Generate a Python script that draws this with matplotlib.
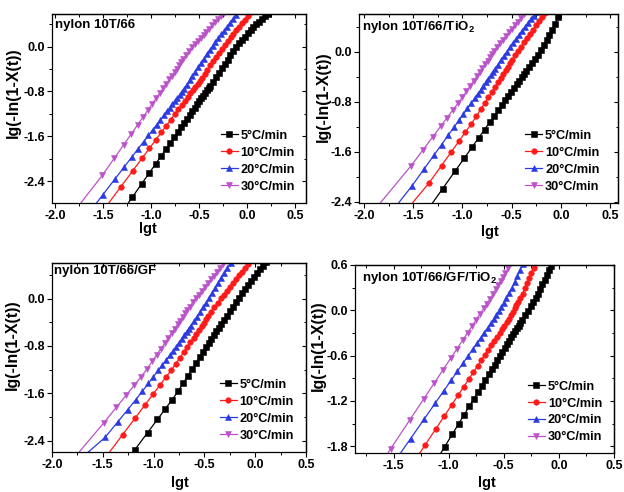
import matplotlib
matplotlib.use("Agg")
import matplotlib.pyplot as plt
from matplotlib.ticker import MultipleLocator

plt.rcParams["font.family"] = ["Liberation Sans", "DejaVu Sans"]
plt.rcParams["font.weight"] = "bold"
plt.rcParams["mathtext.fontset"] = "custom"
plt.rcParams["mathtext.rm"] = "Liberation Sans:bold"
plt.rcParams["mathtext.bf"] = "Liberation Sans:bold"
plt.rcParams["axes.linewidth"] = 0.9

RATES = ["5°C/min", "10°C/min", "20°C/min", "30°C/min"]
COLORS = ["#000000", "#ff1a1a", "#2b3be0", "#bb52c9"]
MARKERS = ["s", "o", "^", "v"]
TITLES = ["nylon 10T/66", "nylon 10T/66/TiO$_{2}$",
          "nylon 10T/66/GF", "nylon 10T/66/GF/TiO$_{2}$"]

# ---- panel a: nylon 10T/66 ----
a_x5 = [-1.30, -1.195, -1.098, -1.019, -0.952, -0.894, -0.843, -0.797, -0.756, -0.718, -0.683,
        -0.651, -0.621, -0.593, -0.567, -0.542, -0.518, -0.496, -0.475, -0.455, -0.435, -0.417,
        -0.399, -0.382, -0.352, -0.322, -0.292, -0.262, -0.232, -0.202, -0.172, -0.142, -0.112,
        -0.082, -0.052, -0.022, 0.008, 0.038, 0.068, 0.098, 0.128, 0.158, 0.188, 0.218]
a_y5 = [-2.947, -2.690, -2.452, -2.259, -2.095, -1.953, -1.828, -1.715, -1.614, -1.521, -1.436,
        -1.357, -1.284, -1.215, -1.151, -1.090, -1.031, -0.977, -0.926, -0.877, -0.828, -0.784,
        -0.740, -0.698, -0.625, -0.547, -0.469, -0.391, -0.313, -0.235, -0.157, -0.079, -0.006,
        0.054, 0.114, 0.174, 0.234, 0.294, 0.347, 0.395, 0.443, 0.491, 0.539, 0.587]
a_x10 = [-1.50, -1.316, -1.191, -1.094, -1.015, -0.948, -0.890, -0.839, -0.793, -0.752, -0.714,
         -0.679, -0.647, -0.617, -0.589, -0.563, -0.538, -0.514, -0.492, -0.471, -0.441, -0.411,
         -0.381, -0.351, -0.321, -0.291, -0.261, -0.231, -0.201, -0.171, -0.141, -0.111, -0.081,
         -0.051, -0.021, 0.009, 0.039]
a_y10 = [-2.930, -2.507, -2.220, -1.996, -1.815, -1.661, -1.527, -1.410, -1.304, -1.210, -1.122,
         -1.042, -0.968, -0.899, -0.835, -0.775, -0.718, -0.662, -0.610, -0.559, -0.485, -0.412,
         -0.338, -0.265, -0.191, -0.118, -0.044, 0.029, 0.103, 0.166, 0.229, 0.292, 0.355,
         0.418, 0.481, 0.544, 0.607]
a_x20 = [-1.60, -1.503, -1.378, -1.281, -1.202, -1.135, -1.077, -1.026, -0.980, -0.939, -0.901,
         -0.866, -0.834, -0.804, -0.776, -0.750, -0.725, -0.701, -0.679, -0.658, -0.628, -0.598,
         -0.568, -0.538, -0.508, -0.478, -0.448, -0.418, -0.388, -0.358, -0.328, -0.298, -0.268,
         -0.238, -0.208, -0.178, -0.148, -0.118, -0.088]
a_y20 = [-2.865, -2.649, -2.370, -2.154, -1.978, -1.828, -1.699, -1.585, -1.483, -1.391, -1.307,
         -1.228, -1.157, -1.090, -1.028, -0.970, -0.914, -0.861, -0.811, -0.760, -0.682, -0.604,
         -0.526, -0.448, -0.370, -0.292, -0.214, -0.136, -0.061, 0.008, 0.077, 0.146, 0.215,
         0.284, 0.353, 0.422, 0.491, 0.560, 0.629]
a_x30 = [-1.78, -1.507, -1.382, -1.285, -1.206, -1.139, -1.081, -1.030, -0.984, -0.943, -0.905,
         -0.870, -0.838, -0.808, -0.780, -0.754, -0.729, -0.705, -0.683, -0.662, -0.632, -0.602,
         -0.572, -0.542, -0.512, -0.482, -0.452, -0.422, -0.392, -0.362, -0.332, -0.302, -0.272,
         -0.242]
a_y30 = [-2.900, -2.299, -1.993, -1.755, -1.562, -1.397, -1.255, -1.130, -1.018, -0.917, -0.824,
         -0.738, -0.660, -0.586, -0.518, -0.454, -0.393, -0.334, -0.280, -0.229, -0.155, -0.082,
         -0.013, 0.042, 0.098, 0.153, 0.209, 0.264, 0.320, 0.375, 0.431, 0.486, 0.542,
         0.597]

# ---- panel b: nylon 10T/66/TiO2 ----
b_x5 = [-1.36, -1.201, -1.076, -0.979, -0.900, -0.833, -0.775, -0.724, -0.678, -0.637, -0.599,
        -0.564, -0.532, -0.502, -0.474, -0.448, -0.423, -0.399, -0.377, -0.356, -0.326, -0.296,
        -0.266, -0.236, -0.206, -0.176, -0.146, -0.116, -0.086, -0.056, -0.026, 0.004]
b_y5 = [-2.545, -2.192, -1.914, -1.699, -1.524, -1.375, -1.246, -1.133, -1.031, -0.940, -0.856,
        -0.778, -0.707, -0.640, -0.578, -0.520, -0.465, -0.412, -0.363, -0.316, -0.249, -0.183,
        -0.116, -0.050, 0.017, 0.097, 0.181, 0.265, 0.349, 0.444, 0.552, 0.660]
b_x10 = [-1.55, -1.337, -1.212, -1.115, -1.036, -0.969, -0.911, -0.860, -0.814, -0.773, -0.735,
         -0.700, -0.668, -0.638, -0.610, -0.584, -0.559, -0.535, -0.513, -0.492, -0.462, -0.432,
         -0.402, -0.372, -0.342, -0.312, -0.282, -0.252, -0.222, -0.192, -0.162, -0.132]
b_y10 = [-2.500, -2.096, -1.821, -1.608, -1.434, -1.286, -1.159, -1.037, -0.924, -0.824, -0.731,
         -0.645, -0.567, -0.493, -0.424, -0.361, -0.300, -0.241, -0.187, -0.135, -0.062, 0.012,
         0.080, 0.148, 0.215, 0.283, 0.350, 0.418, 0.485, 0.553, 0.620, 0.688]
b_x20 = [-1.70, -1.513, -1.388, -1.291, -1.212, -1.145, -1.087, -1.036, -0.990, -0.949, -0.911,
         -0.876, -0.844, -0.814, -0.786, -0.760, -0.735, -0.711, -0.689, -0.668, -0.638, -0.608,
         -0.578, -0.548, -0.518, -0.488, -0.458, -0.428, -0.398, -0.368, -0.338, -0.308, -0.278,
         -0.248]
b_y20 = [-2.523, -2.149, -1.874, -1.661, -1.487, -1.339, -1.212, -1.100, -0.998, -0.908, -0.825,
         -0.748, -0.677, -0.611, -0.548, -0.488, -0.431, -0.375, -0.325, -0.276, -0.207, -0.138,
         -0.069, 0.000, 0.069, 0.135, 0.198, 0.261, 0.324, 0.387, 0.450, 0.513, 0.576,
         0.639]
b_x30 = [-1.90, -1.523, -1.398, -1.301, -1.222, -1.155, -1.097, -1.046, -1.000, -0.959, -0.921,
         -0.886, -0.854, -0.824, -0.796, -0.770, -0.745, -0.721, -0.699, -0.678, -0.648, -0.618,
         -0.588, -0.558, -0.528, -0.498, -0.468, -0.438, -0.408, -0.378, -0.348]
b_y30 = [-2.545, -1.829, -1.567, -1.363, -1.197, -1.056, -0.934, -0.827, -0.731, -0.637, -0.549,
         -0.469, -0.395, -0.326, -0.262, -0.202, -0.144, -0.089, -0.039, 0.010, 0.074, 0.132,
         0.189, 0.247, 0.305, 0.362, 0.420, 0.477, 0.535, 0.593, 0.650]

# ---- panel c: nylon 10T/66/GF ----
c_x5 = [-1.25, -1.184, -1.059, -0.962, -0.883, -0.816, -0.758, -0.707, -0.661, -0.620, -0.582,
        -0.547, -0.515, -0.485, -0.457, -0.431, -0.406, -0.382, -0.360, -0.339, -0.309, -0.279,
        -0.249, -0.219, -0.189, -0.159, -0.129, -0.099, -0.069, -0.039, -0.009, 0.021, 0.051,
        0.081, 0.111]
c_y5 = [-2.700, -2.550, -2.263, -2.039, -1.858, -1.704, -1.562, -1.424, -1.300, -1.189, -1.086,
        -0.992, -0.905, -0.824, -0.749, -0.679, -0.611, -0.546, -0.491, -0.438, -0.363, -0.288,
        -0.213, -0.138, -0.063, 0.012, 0.087, 0.161, 0.227, 0.293, 0.359, 0.425, 0.491,
        0.557, 0.623]
c_x10 = [-1.50, -1.306, -1.181, -1.084, -1.005, -0.938, -0.880, -0.829, -0.783, -0.742, -0.704,
         -0.669, -0.637, -0.607, -0.579, -0.553, -0.528, -0.504, -0.482, -0.461, -0.431, -0.401,
         -0.371, -0.341, -0.311, -0.281, -0.251, -0.221, -0.191, -0.161, -0.131, -0.101, -0.071,
         -0.041]
c_y10 = [-2.742, -2.300, -2.015, -1.794, -1.614, -1.461, -1.329, -1.212, -1.103, -1.000, -0.905,
         -0.818, -0.738, -0.663, -0.593, -0.528, -0.465, -0.405, -0.350, -0.298, -0.223, -0.148,
         -0.073, 0.001, 0.066, 0.131, 0.196, 0.261, 0.326, 0.390, 0.455, 0.520, 0.585,
         0.650]
c_x20 = [-1.70, -1.478, -1.353, -1.256, -1.177, -1.110, -1.052, -1.001, -0.955, -0.914, -0.876,
         -0.841, -0.809, -0.779, -0.751, -0.725, -0.700, -0.676, -0.654, -0.633, -0.603, -0.573,
         -0.543, -0.513, -0.483, -0.453, -0.423, -0.393, -0.363, -0.333, -0.303, -0.273, -0.243,
         -0.213]
c_y20 = [-2.677, -2.344, -2.082, -1.878, -1.712, -1.563, -1.432, -1.318, -1.214, -1.122, -1.036,
         -0.957, -0.885, -0.812, -0.744, -0.680, -0.619, -0.560, -0.506, -0.455, -0.381, -0.308,
         -0.234, -0.151, -0.067, 0.017, 0.101, 0.185, 0.269, 0.353, 0.437, 0.521, 0.605,
         0.689]
c_x30 = [-1.80, -1.491, -1.366, -1.269, -1.190, -1.123, -1.065, -1.014, -0.968, -0.927, -0.889,
         -0.854, -0.822, -0.792, -0.764, -0.738, -0.713, -0.689, -0.667, -0.646, -0.616, -0.586,
         -0.556, -0.526, -0.496, -0.466, -0.436, -0.406, -0.376, -0.346, -0.316, -0.286]
c_y30 = [-2.727, -2.100, -1.835, -1.629, -1.462, -1.320, -1.189, -1.061, -0.946, -0.844, -0.749,
         -0.661, -0.581, -0.506, -0.436, -0.371, -0.309, -0.249, -0.194, -0.141, -0.066, 0.001,
         0.065, 0.129, 0.194, 0.258, 0.322, 0.386, 0.450, 0.514, 0.579, 0.643]

# ---- panel d: nylon 10T/66/GF/TiO2 ----
d_x5 = [-1.10, -1.035, -0.968, -0.910, -0.859, -0.813, -0.772, -0.734, -0.699, -0.667, -0.637,
        -0.609, -0.583, -0.558, -0.534, -0.512, -0.491, -0.471, -0.451, -0.433, -0.415, -0.398,
        -0.382, -0.366, -0.351, -0.336, -0.308, -0.282, -0.257, -0.233, -0.211, -0.190, -0.170,
        -0.150, -0.130, -0.110, -0.090, -0.070, -0.050]
d_y5 = [-1.960, -1.804, -1.643, -1.504, -1.382, -1.271, -1.173, -1.082, -0.998, -0.921, -0.849,
        -0.782, -0.719, -0.659, -0.602, -0.549, -0.498, -0.450, -0.402, -0.360, -0.318, -0.278,
        -0.240, -0.203, -0.167, -0.132, -0.066, -0.005, 0.054, 0.110, 0.162, 0.219, 0.281,
        0.343, 0.405, 0.467, 0.529, 0.591, 0.653]
d_x10 = [-1.30, -1.215, -1.118, -1.039, -0.972, -0.914, -0.863, -0.817, -0.776, -0.738, -0.703,
         -0.671, -0.641, -0.613, -0.587, -0.562, -0.538, -0.516, -0.495, -0.475, -0.455, -0.437,
         -0.419, -0.402, -0.386, -0.370, -0.350, -0.330, -0.310, -0.290, -0.270, -0.250, -0.230,
         -0.210]
d_y10 = [-1.973, -1.786, -1.573, -1.399, -1.251, -1.124, -1.012, -0.910, -0.820, -0.737, -0.660,
         -0.589, -0.523, -0.462, -0.404, -0.349, -0.297, -0.248, -0.202, -0.158, -0.114, -0.068,
         -0.019, 0.027, 0.070, 0.113, 0.167, 0.221, 0.289, 0.357, 0.425, 0.493, 0.561,
         0.629]
d_x20 = [-1.50, -1.346, -1.221, -1.124, -1.045, -0.978, -0.920, -0.869, -0.823, -0.782, -0.744,
         -0.709, -0.677, -0.647, -0.619, -0.593, -0.568, -0.544, -0.522, -0.501, -0.476, -0.451,
         -0.426, -0.401, -0.376, -0.351, -0.326, -0.301]
d_y20 = [-2.023, -1.700, -1.438, -1.234, -1.068, -0.927, -0.805, -0.698, -0.602, -0.516, -0.436,
         -0.362, -0.295, -0.232, -0.173, -0.119, -0.066, -0.012, 0.045, 0.099, 0.164, 0.229,
         0.297, 0.377, 0.457, 0.537, 0.617, 0.697]
d_x30 = [-1.60, -1.527, -1.351, -1.226, -1.129, -1.050, -0.983, -0.925, -0.874, -0.828, -0.787,
         -0.749, -0.714, -0.682, -0.652, -0.624, -0.598, -0.573, -0.549, -0.527, -0.506, -0.486,
         -0.461, -0.436, -0.411]
d_y30 = [-2.000, -1.835, -1.448, -1.173, -0.959, -0.786, -0.638, -0.511, -0.398, -0.297, -0.207,
         -0.123, -0.046, 0.024, 0.090, 0.152, 0.215, 0.278, 0.338, 0.393, 0.445, 0.495,
         0.558, 0.620, 0.683]

SERIES = [
    [(a_x5, a_y5), (a_x10, a_y10), (a_x20, a_y20), (a_x30, a_y30)],
    [(b_x5, b_y5), (b_x10, b_y10), (b_x20, b_y20), (b_x30, b_y30)],
    [(c_x5, c_y5), (c_x10, c_y10), (c_x20, c_y20), (c_x30, c_y30)],
    [(d_x5, d_y5), (d_x10, d_y10), (d_x20, d_y20), (d_x30, d_y30)],
]

# layout per panel (pixel-measured against the 624x492 canvas)
LAYOUT = [
    dict(rect=(52, 14, 306, 203), xlim=(-2.03, 0.615), ylim=(-2.79, 0.58), ystep=0.8,
         title_xy=(0.012, 0.942), leg_xy=(0.665, 0.221), xlab=(0.378, -0.100), ylab=(-0.122, 0.585)),
    dict(rect=(359, 14, 618, 203), xlim=(-2.05, 0.58), ylim=(-2.42, 0.60), ystep=0.8,
         title_xy=(0.012, 0.933), leg_xy=(0.642, 0.221), xlab=(0.506, -0.116), ylab=(-0.110, 0.561)),
    dict(rect=(52, 263, 306, 452), xlim=(-2.0, 0.5), ylim=(-2.59, 0.60), ystep=0.8,
         title_xy=(0.006, 0.958), leg_xy=(0.661, 0.221), xlab=(0.505, -0.127), ylab=(-0.126, 0.568)),
    dict(rect=(355, 265, 614, 453), xlim=(-1.85, 0.5), ylim=(-1.89, 0.60), ystep=0.6,
         title_xy=(0.027, 0.932), leg_xy=(0.668, 0.218), xlab=(0.510, -0.125), ylab=(-0.114, 0.569)),
]

W, H = 624, 492
fig = plt.figure(figsize=(W / 100, H / 100), dpi=100)

for p, lay in enumerate(LAYOUT):
    x0, y0, x1, y1 = lay["rect"]
    ax = fig.add_axes([x0 / W, (H - y1) / H, (x1 - x0) / W, (y1 - y0) / H])

    handles = []
    for s, (xs, ys) in enumerate(SERIES[p]):
        (ln,) = ax.plot(xs, ys, color=COLORS[s], marker=MARKERS[s], markersize=4.0,
                        markeredgewidth=0.4, linewidth=0.9, label=RATES[s])
        handles.append(ln)

    ax.set_xlim(*lay["xlim"])
    ax.set_ylim(*lay["ylim"])
    ax.xaxis.set_major_locator(MultipleLocator(0.5))
    ax.xaxis.set_minor_locator(MultipleLocator(0.25))
    ax.yaxis.set_major_locator(MultipleLocator(lay["ystep"]))
    ax.yaxis.set_minor_locator(MultipleLocator(lay["ystep"] / 2))
    ax.xaxis.set_major_formatter(lambda v, pos: f"{v:.1f}".replace("-0.0", "0.0"))
    ax.yaxis.set_major_formatter(lambda v, pos: f"{v:.1f}".replace("-0.0", "0.0"))
    ax.tick_params(which="major", direction="out", length=3.5, width=0.8, labelsize=9, pad=1.5)
    ax.tick_params(which="minor", direction="out", length=2, width=0.7)

    # inward ticks on the top and right edges
    top = ax.secondary_xaxis("top")
    top.xaxis.set_major_locator(MultipleLocator(0.5))
    top.xaxis.set_minor_locator(MultipleLocator(0.25))
    top.tick_params(which="major", direction="in", length=3, width=0.8, labeltop=False)
    top.tick_params(which="minor", direction="in", length=1.8, width=0.7)
    right = ax.secondary_yaxis("right")
    right.yaxis.set_major_locator(MultipleLocator(lay["ystep"]))
    right.yaxis.set_minor_locator(MultipleLocator(lay["ystep"] / 2))
    right.tick_params(which="major", direction="in", length=3, width=0.8, labelright=False)
    right.tick_params(which="minor", direction="in", length=1.8, width=0.7)

    ax.set_xlabel("lgt", fontsize=10.5, fontweight="bold")
    ax.set_ylabel("lg(-ln(1-X(t))", fontsize=11.5, fontweight="bold")
    ax.xaxis.set_label_coords(*lay["xlab"])
    ax.yaxis.set_label_coords(*lay["ylab"])

    ax.text(lay["title_xy"][0], lay["title_xy"][1], TITLES[p], transform=ax.transAxes,
            fontsize=9.5, fontweight="bold", ha="left", va="center")

    ax.legend(handles=handles, loc="center left", bbox_to_anchor=lay["leg_xy"], frameon=False,
              fontsize=9.2, handlelength=1.3, handletextpad=0.25, labelspacing=0.38,
              borderpad=0, borderaxespad=0)

fig.savefig("out.png", dpi=100)
